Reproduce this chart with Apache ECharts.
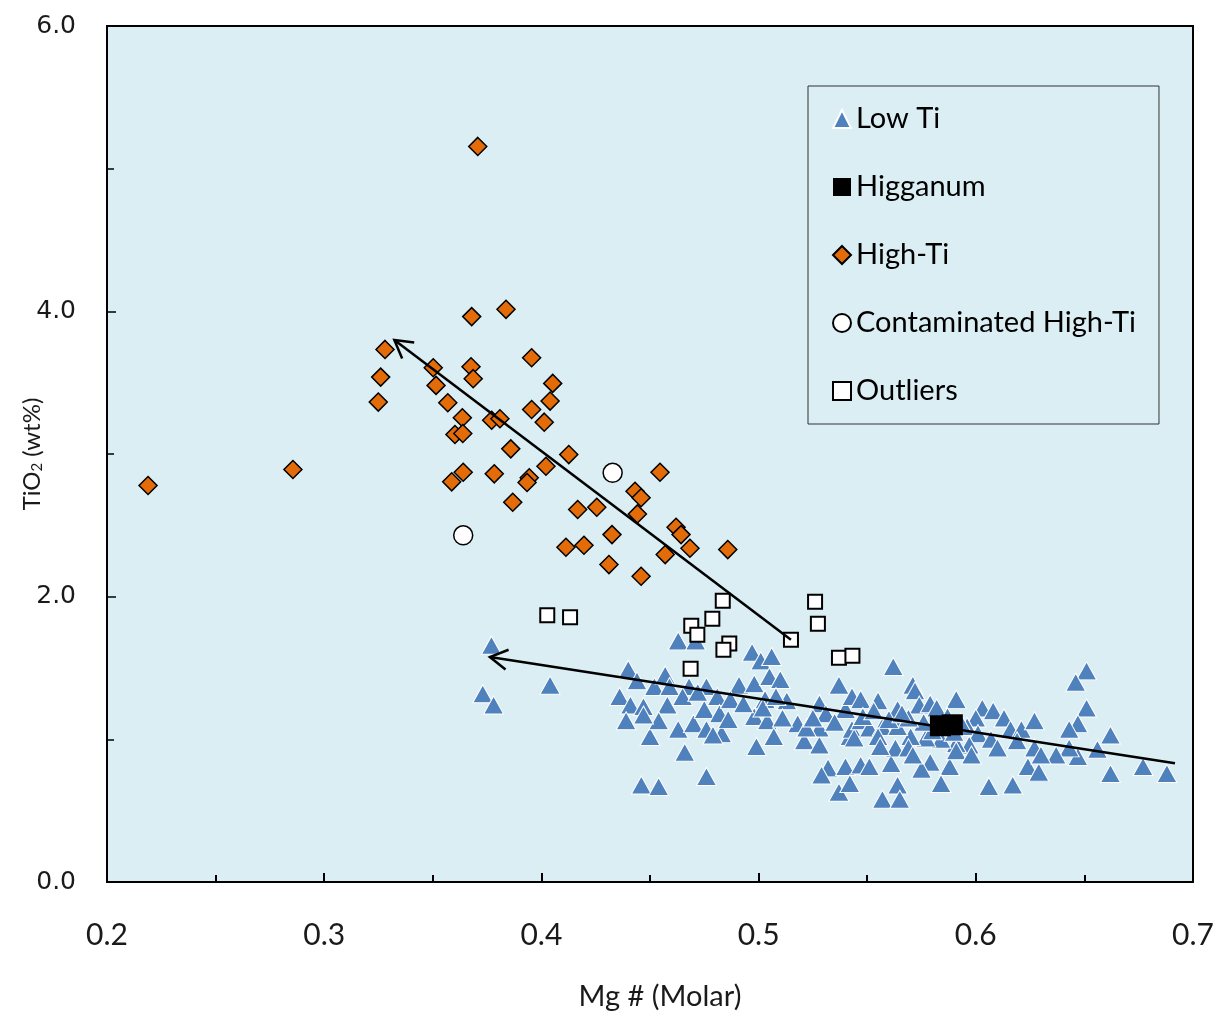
<!DOCTYPE html>
<html>
<head>
<meta charset="utf-8">
<script src="https://cdn.jsdelivr.net/npm/echarts@6/dist/echarts.min.js"></script>
<style>
  html, body { margin: 0; padding: 0; background: #ffffff; }
  #chart { width: 1215px; height: 1015px; }
</style>
</head>
<body>
<div id="chart"></div>
<script>
// Mg# (molar) vs TiO2 (wt%) for the basalt groups
const lowTi = [
  [0.377,1.66],[0.373,1.32],[0.378,1.24],[0.404,1.38],[0.446,0.68],[0.454,0.67],[0.476,0.74],
  [0.463,1.69],[0.471,1.69],[0.440,1.49],[0.444,1.41],[0.436,1.30],[0.441,1.24],[0.439,1.13],
  [0.450,1.02],[0.447,1.23],[0.452,1.37],[0.457,1.45],[0.459,1.37],[0.458,1.24],[0.454,1.13],
  [0.463,1.07],[0.466,0.91],[0.468,1.37],[0.476,1.37],[0.470,1.11],[0.475,1.21],[0.481,1.30],
  [0.476,1.07],[0.483,1.04],[0.482,1.18],[0.491,1.38],[0.497,1.61],[0.501,1.55],[0.506,1.58],
  [0.498,1.39],[0.505,1.44],[0.510,1.42],[0.498,1.16],[0.504,1.13],[0.499,0.95],[0.513,1.27],
  [0.518,1.11],[0.507,1.02],[0.447,1.17],[0.479,1.03],[0.503,1.28],[0.511,1.15],[0.521,0.99],
  [0.528,0.96],[0.528,1.08],[0.528,1.25],[0.531,1.18],[0.537,1.38],[0.542,1.02],[0.543,1.07],
  [0.544,1.01],[0.540,1.21],[0.543,1.30],[0.547,1.28],[0.547,1.13],[0.551,1.08],[0.555,1.27],
  [0.557,1.09],[0.555,1.02],[0.562,1.51],[0.532,0.80],[0.540,0.81],[0.547,0.82],[0.551,0.81],
  [0.529,0.75],[0.537,0.63],[0.542,0.69],[0.557,0.58],[0.561,0.83],[0.571,1.38],[0.572,1.34],
  [0.564,1.21],[0.574,1.24],[0.579,1.25],[0.582,1.22],[0.591,1.28],[0.603,1.22],[0.608,1.20],
  [0.613,1.15],[0.600,1.15],[0.596,1.09],[0.601,1.04],[0.607,1.00],[0.616,1.07],[0.621,1.07],
  [0.627,1.13],[0.627,0.94],[0.619,0.99],[0.610,0.94],[0.597,0.96],[0.591,0.97],[0.584,1.00],
  [0.577,1.01],[0.570,1.02],[0.564,1.09],[0.563,0.94],[0.569,0.94],[0.579,0.84],[0.575,0.79],
  [0.588,0.81],[0.584,0.69],[0.564,0.68],[0.565,0.58],[0.606,0.67],[0.617,0.68],[0.591,0.92],
  [0.598,0.89],[0.624,0.81],[0.629,0.77],[0.651,1.48],[0.646,1.40],[0.651,1.22],[0.647,1.11],
  [0.643,1.07],[0.662,1.03],[0.656,0.93],[0.647,0.88],[0.643,0.94],[0.637,0.89],[0.630,0.89],
  [0.662,0.76],[0.677,0.81],[0.688,0.76],[0.556,0.95],[0.571,0.89],[0.522,1.08],
  [0.585,1.10],[0.580,1.06],[0.590,1.05],[0.576,1.12],[0.593,1.12],[0.587,1.16],[0.569,1.15],
  [0.560,1.14],[0.566,1.18],[0.535,1.12],[0.525,1.15],[0.548,1.16],[0.553,1.20],[0.465,1.30],
  [0.472,1.33],[0.487,1.28],[0.493,1.25],[0.486,1.14],[0.502,1.22],[0.508,1.30]
];

const higganum = [[0.5837,1.095],[0.5892,1.102]];

const highTi = [
  [0.2189,2.779],[0.2856,2.891],[0.3280,3.733],[0.3260,3.539],[0.3249,3.364],[0.3707,5.156],
  [0.3679,3.963],[0.3837,4.014],[0.3502,3.605],[0.3515,3.481],[0.3569,3.359],[0.3676,3.612],
  [0.3686,3.528],[0.3955,3.675],[0.4052,3.495],[0.4040,3.371],[0.3955,3.312],[0.4013,3.223],
  [0.3636,3.254],[0.3771,3.237],[0.3809,3.247],[0.3602,3.137],[0.3638,3.144],[0.3859,3.036],
  [0.4126,2.996],[0.4021,2.914],[0.3640,2.872],[0.3587,2.805],[0.3783,2.861],[0.3944,2.833],
  [0.3934,2.800],[0.4546,2.872],[0.4431,2.739],[0.4459,2.693],[0.4442,2.580],[0.4167,2.611],
  [0.4255,2.627],[0.3868,2.662],[0.4620,2.486],[0.4643,2.435],[0.4684,2.339],[0.4570,2.295],
  [0.4858,2.330],[0.4325,2.435],[0.4113,2.346],[0.4196,2.360],[0.4311,2.225],[0.4459,2.143]
];

const contaminatedHighTi = [[0.4328,2.868],[0.3640,2.430]];

const outliers = [
  [0.4027,1.869],[0.4132,1.855],[0.4835,1.972],[0.4787,1.846],[0.4690,1.796],[0.4718,1.733],
  [0.4865,1.672],[0.4838,1.628],[0.4687,1.495],[0.5149,1.698],[0.5260,1.965],[0.5273,1.811],
  [0.5370,1.571],[0.5432,1.585]
];

// trend arrows: [x start, y start, x tip, y tip]
const trendArrows = [
  [0.5149,1.698,0.3323,3.799],
  [0.6917,0.832,0.3763,1.577]
];

const legendNames = ['Low Ti','Higganum','High-Ti','Contaminated High-Ti','Outliers'];

const chart = echarts.init(document.getElementById('chart'), null, { renderer: 'canvas' });

function drawArrow(params, api) {
  const p0 = api.coord([api.value(0), api.value(1)]);
  const p1 = api.coord([api.value(2), api.value(3)]);
  const ang = Math.atan2(p0[1] - p1[1], p0[0] - p1[0]);
  const len = 20, spread = Math.PI / 6;
  const a1 = [p1[0] + len * Math.cos(ang - spread), p1[1] + len * Math.sin(ang - spread)];
  const a2 = [p1[0] + len * Math.cos(ang + spread), p1[1] + len * Math.sin(ang + spread)];
  const style = { stroke: '#000', lineWidth: 2.5, fill: null };
  return {
    type: 'group',
    children: [
      { type: 'polyline', shape: { points: [p0, p1] }, style: style },
      { type: 'polyline', shape: { points: [a1, p1, a2] }, style: style }
    ]
  };
}

chart.setOption({
  animation: false,
  backgroundColor: '#ffffff',
  grid: {
    left: 107, top: 26, right: 22, bottom: 133,
    outerBoundsMode: 'none',
    show: true, backgroundColor: '#DAEEF3', borderColor: '#000', borderWidth: 2
  },
  legend: {
    orient: 'vertical',
    left: 808, top: 86,
    padding: [18, 23, 18, 24],
    itemGap: 38,
    itemWidth: 18, itemHeight: 18,
    backgroundColor: '#DAEEF3',
    borderColor: '#333', borderWidth: 1, borderRadius: 0,
    selectedMode: false,
    textStyle: { fontFamily: 'Lato', fontSize: 29, color: '#000', lineHeight: 30 },
    data: legendNames
  },
  xAxis: {
    type: 'value', min: 0.2, max: 0.7, interval: 0.1,
    name: 'Mg # (Molar)', nameLocation: 'middle', nameGap: 100, nameMoveOverlap: false,
    nameTextStyle: { fontFamily: 'Lato', fontSize: 29, color: '#1a1a1a', padding: [0, 0, 0, 20] },
    axisLine: { show: true, onZero: false, lineStyle: { color: '#000', width: 2 } },
    axisTick: { show: true, inside: true, length: 9, lineStyle: { color: '#000', width: 2 } },
    minorTick: { show: true, splitNumber: 2, length: 7, lineStyle: { color: '#000', width: 2 } },
    splitLine: { show: false },
    axisLabel: {
      margin: 38, fontFamily: 'Lato', fontSize: 30, color: '#1a1a1a',
      formatter: v => v.toFixed(1)
    }
  },
  yAxis: {
    type: 'value', min: 0, max: 6, interval: 2,
    name: '{a|TiO}{s|2}{a| (wt%)}', nameLocation: 'middle', nameGap: 62, nameRotate: 90,
    nameMoveOverlap: false,
    nameTextStyle: {
      rich: {
        a: { fontFamily: 'Lato', fontSize: 24, color: '#1a1a1a' },
        s: { fontFamily: 'Lato', fontSize: 15, color: '#1a1a1a', verticalAlign: 'bottom', padding: [10, 0, 0, 0] }
      }
    },
    axisLine: { show: true, onZero: false, lineStyle: { color: '#000', width: 2 } },
    axisTick: { show: true, inside: true, length: 9, lineStyle: { color: '#000', width: 1.5 } },
    minorTick: { show: true, splitNumber: 2, length: 7, lineStyle: { color: '#000', width: 1.5 } },
    splitLine: { show: false },
    axisLabel: {
      margin: 31, fontFamily: 'DejaVu Sans', fontSize: 25, color: '#1a1a1a',
      formatter: v => v.toFixed(1)
    }
  },
  series: [
    {
      name: 'Low Ti', type: 'scatter', data: lowTi,
      symbol: 'triangle', symbolSize: [20, 18],
      itemStyle: { color: '#4F81BD', borderColor: '#ffffff', borderWidth: 1, opacity: 1 }
    },
    {
      name: 'High-Ti', type: 'scatter', data: highTi,
      symbol: 'diamond', symbolSize: 18,
      itemStyle: { color: '#E36C09', borderColor: '#000', borderWidth: 1.5, opacity: 1 }
    },
    {
      name: 'Contaminated High-Ti', type: 'scatter', data: contaminatedHighTi,
      symbol: 'circle', symbolSize: 19,
      itemStyle: { color: '#ffffff', borderColor: '#000', borderWidth: 1.5, opacity: 1 }
    },
    {
      name: 'Outliers', type: 'scatter', data: outliers,
      symbol: 'rect', symbolSize: 14,
      itemStyle: { color: '#ffffff', borderColor: '#000', borderWidth: 2, opacity: 1 }
    },
    {
      name: 'trends', type: 'custom', data: trendArrows,
      encode: { x: [0, 2], y: [1, 3] },
      renderItem: drawArrow, silent: true, z: 3
    },
    {
      name: 'Higganum', type: 'scatter', data: higganum,
      symbol: 'rect', symbolSize: 21, z: 4,
      itemStyle: { color: '#000', borderColor: '#000', borderWidth: 0, opacity: 1 }
    }
  ]
});
</script>
</body>
</html>
